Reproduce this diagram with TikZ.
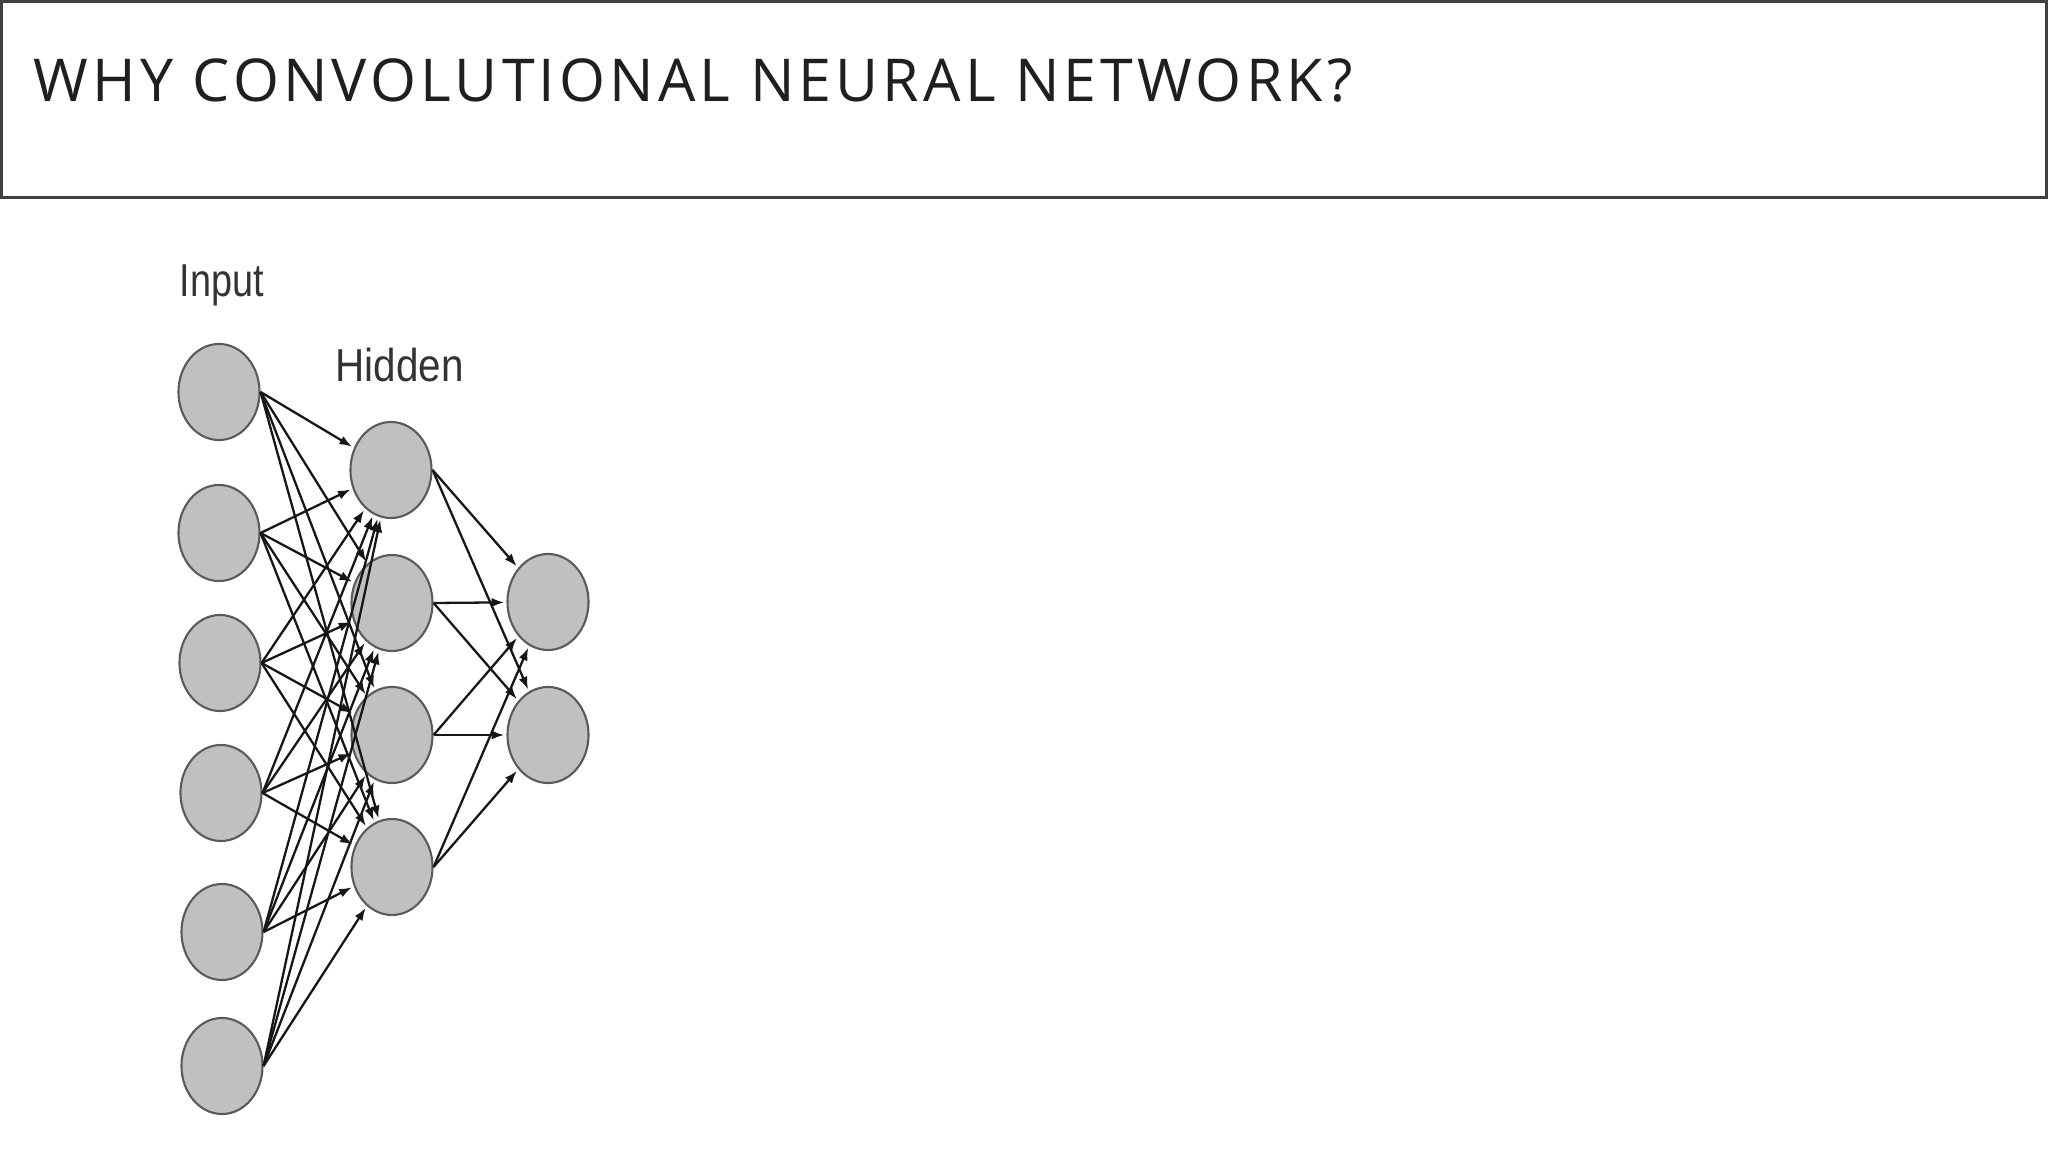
\documentclass[tikz,border=0pt]{standalone}
\usepackage{fontspec}
\setmainfont{Liberation Sans}
\newfontfamily\titlefont[LetterSpace=7]{Open Sans}
\usetikzlibrary{shapes.geometric,arrows.meta}

\definecolor{frame}{HTML}{404040}
\definecolor{unitfill}{HTML}{C0C0C0}
\definecolor{unitdraw}{HTML}{5A5A5A}
\definecolor{wire}{HTML}{161616}

\begin{document}
\begin{tikzpicture}[
    x=0.01cm, y=-0.01cm,
    unit/.style={ellipse, draw=unitdraw, fill=unitfill, line width=0.6pt,
      minimum width=0.81cm, minimum height=0.96cm, inner sep=0pt},
    wireto/.style={draw=wire, line width=0.65pt, shorten >=0.6pt,
      -{Latex[length=3.6pt,width=2.6pt]}},
    layername/.style={anchor=base west, inner sep=0pt,
      font=\fontsize{12.5}{14}\selectfont, text=black!80}
  ]
  \useasboundingbox (0,0) rectangle (2048,1152);

  %% ---- Title bar ----
  \draw[frame, line width=0.9pt] (1.5,1.5) rectangle (2046.5,197.5);
  \node[anchor=base west, inner sep=0pt, text=black!88,
    font=\titlefont\fontsize{16.8}{20}\selectfont] (title) at (33,102)
    {WHY CONVOLUTIONAL NEURAL NETWORK?};

  %% ---- Layer names ----
  \node[layername] (inlabel) at (179,297) {\scalebox{0.86}[1.05]{Input}};
  \node[layername] (hidlabel) at (335,382) {\scalebox{0.92}[1.05]{Hidden}};

  %% ---- Input layer ----
  \node[unit] (i1) at (219,392) {};
  \node[unit] (i2) at (219,533) {};
  \node[unit] (i3) at (220,663) {};
  \node[unit] (i4) at (221,793) {};
  \node[unit] (i5) at (222,932) {};
  \node[unit] (i6) at (222,1066) {};

  %% ---- Hidden layer ----
  \node[unit] (h1) at (391,470) {};
  \node[unit] (h2) at (392,603) {};
  \node[unit] (h3) at (392,735) {};
  \node[unit] (h4) at (392,867) {};

  %% ---- Output layer ----
  \node[unit] (o1) at (548,602) {};
  \node[unit] (o2) at (548,735) {};

  % input -> hidden (fully connected)
  \foreach \i in {1,...,6}
    \foreach \h in {1,...,4}
      \draw[wireto] (i\i.east) -- (h\h);

  % hidden -> output
  \foreach \h in {1,...,4}
    \foreach \o in {1,2}
      \draw[wireto] (h\h.east) -- (o\o);

\end{tikzpicture}
\end{document}
